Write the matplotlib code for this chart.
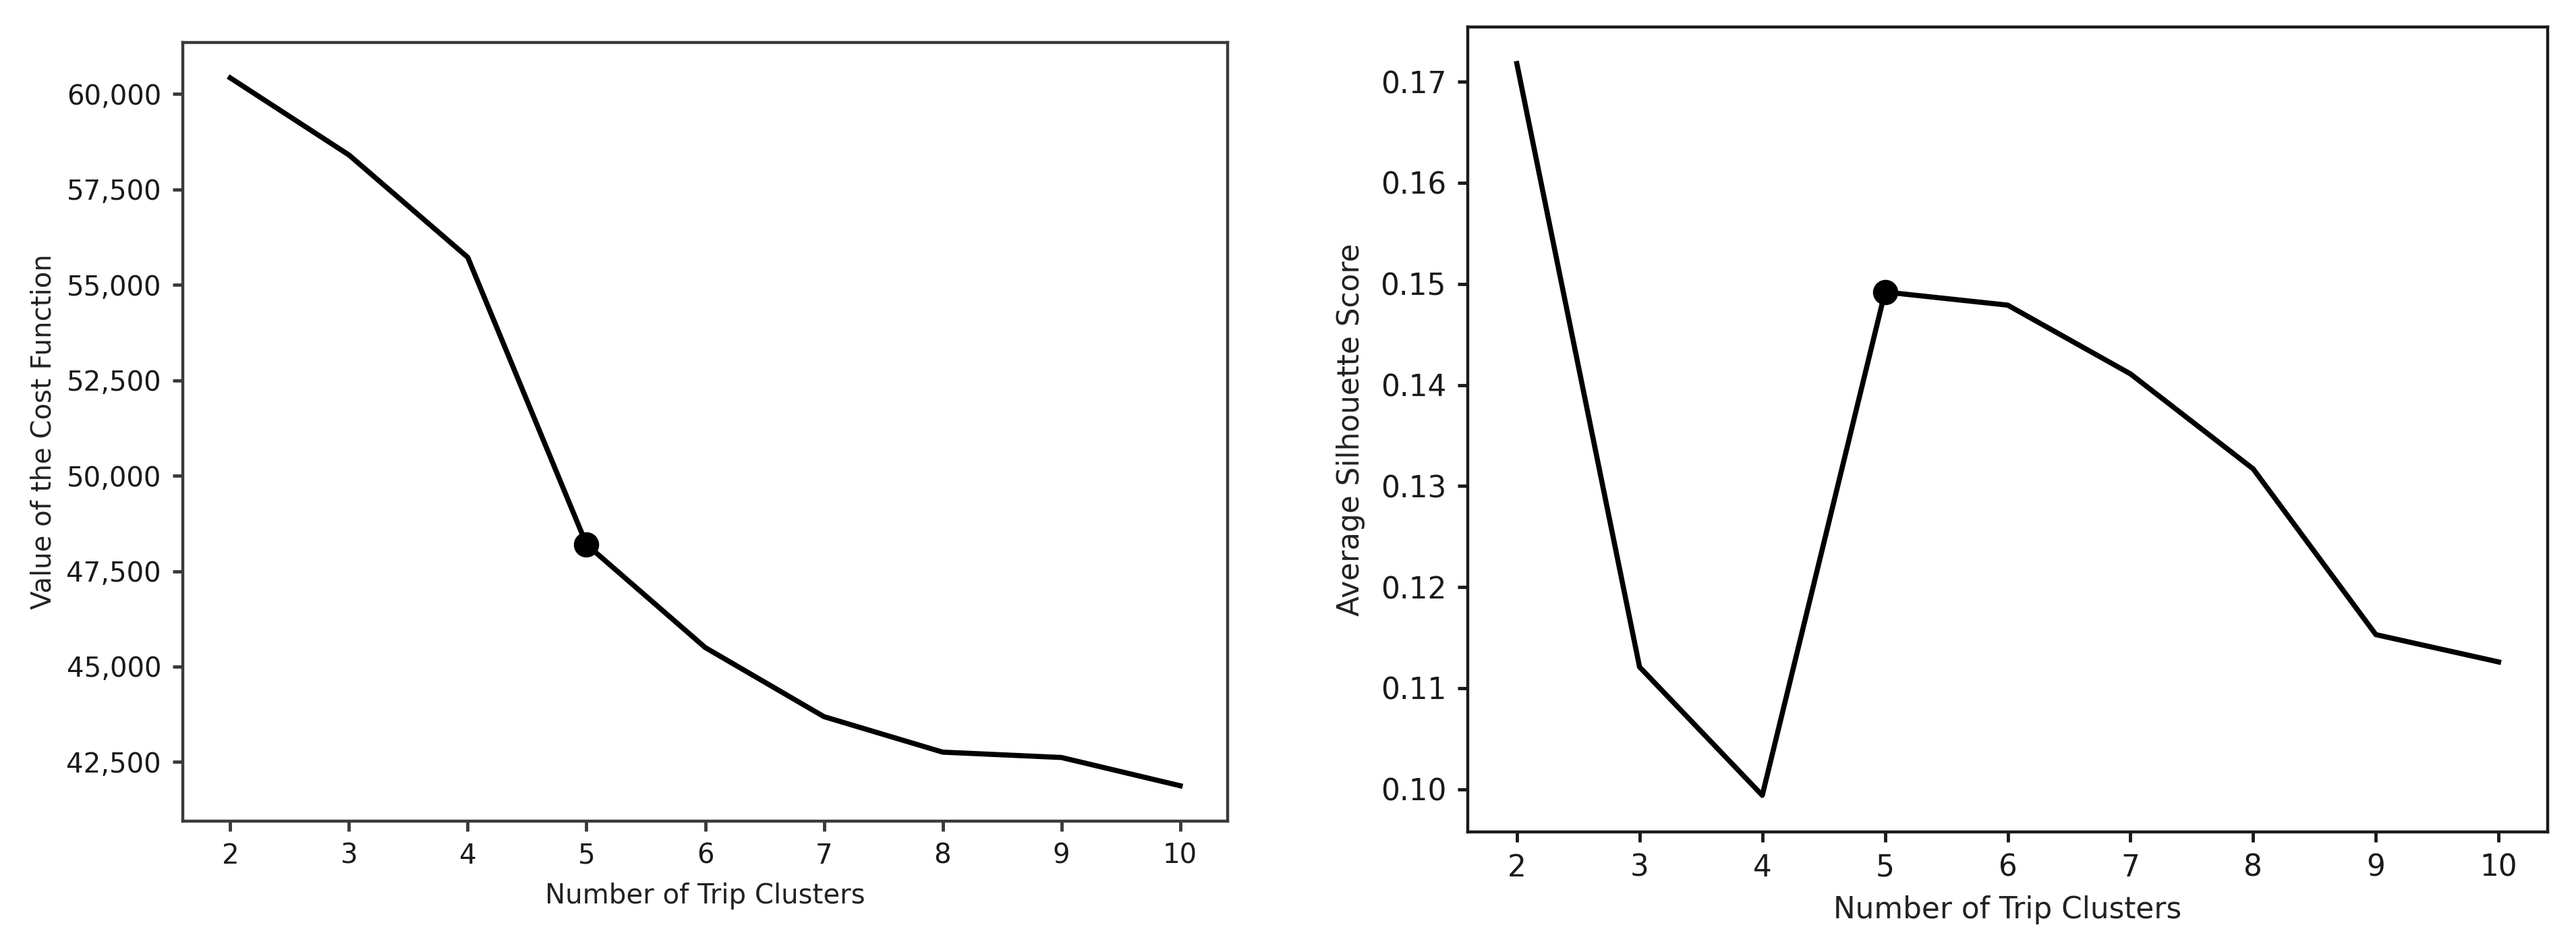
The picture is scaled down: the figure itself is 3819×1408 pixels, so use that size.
import matplotlib
matplotlib.use("Agg")
import matplotlib.pyplot as plt
from matplotlib.ticker import FuncFormatter

clusters = [2, 3, 4, 5, 6, 7, 8, 9, 10]
cost_values = [60420, 58400, 55720, 48200, 45500, 43690, 42760, 42620, 41880]
silhouette_values = [0.1718, 0.1121, 0.0994, 0.1492, 0.1479, 0.1411, 0.1317, 0.1153, 0.1126]
highlight_k = 5
cost_ticks = [42500, 45000, 47500, 50000, 52500, 55000, 57500, 60000]
sil_ticks = [0.10, 0.11, 0.12, 0.13, 0.14, 0.15, 0.16, 0.17]
xlabel = "Number of Trip Clusters"
ylabel_left = "Value of the Cost Function"
ylabel_right = "Average Silhouette Score"

W, H = 3819, 1408
fig = plt.figure(figsize=(W / 100, H / 100), dpi=100)
fig.patch.set_facecolor("white")

ax1 = fig.add_axes([271 / W, 1 - 1217 / H, (1820 - 271) / W, (1217 - 63) / H])
ax2 = fig.add_axes([2176 / W, 1 - 1233 / H, (3777 - 2176) / W, (1233 - 40) / H])

hi = clusters.index(highlight_k)

for ax, vals, ticks, ylab, spine_c, fs, ylp in [
    (ax1, cost_values, cost_ticks, ylabel_left, "#3a3a3a", 29, 10),
    (ax2, silhouette_values, sil_ticks, ylabel_right, "#1a1a1a", 31.5, 16),
]:
    ax.plot(clusters, vals, color="black", linewidth=5.5)
    ax.plot([clusters[hi]], [vals[hi]], "o", color="black", markersize=26)
    ax.set_xticks(clusters)
    ax.set_yticks(ticks)
    ax.set_xlabel(xlabel, fontsize=fs, color="#222222", labelpad=14)
    ax.set_ylabel(ylab, fontsize=fs, color="#222222", labelpad=ylp)
    ax.tick_params(axis="both", labelsize=fs, length=11, width=3.5,
                   color=spine_c, labelcolor="#1a1a1a", pad=12)
    for s in ax.spines.values():
        s.set_linewidth(3.2)
        s.set_color(spine_c)

ax1.yaxis.set_major_formatter(FuncFormatter(lambda v, p: f"{int(round(v)):,}"))
ax2.yaxis.set_major_formatter(FuncFormatter(lambda v, p: f"{v:.2f}"))

fig.savefig("out.png", dpi=100, facecolor="white")
